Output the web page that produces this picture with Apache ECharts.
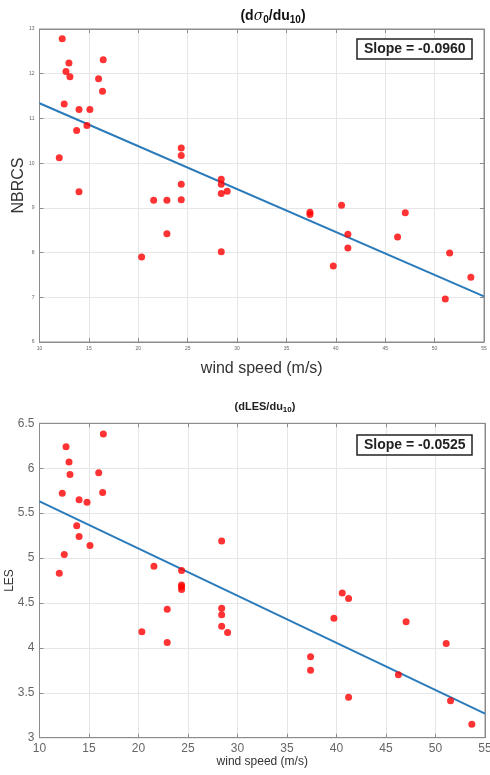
<!DOCTYPE html>
<html>
<head>
<meta charset="utf-8">
<script src="https://cdn.jsdelivr.net/npm/echarts@6/dist/echarts.min.js"></script>
<style>
  html, body { margin: 0; padding: 0; background: #fff; }
  #chart { width: 490px; height: 775px; }
</style>
</head>
<body>
<div id="chart"></div>
<script>
// Wind speed (m/s) of each sample, shared by both panels
const windSpeed = [12.0, 12.3, 12.5, 12.68, 12.98, 13.08, 13.76, 14.0, 14.0, 14.8, 15.1, 15.98, 16.38, 16.45,
  20.34, 21.56, 22.9, 22.9, 24.35, 24.35, 24.35, 24.35, 28.4, 28.4, 28.4, 28.4, 29.0,
  37.38, 37.38, 39.74, 40.58, 41.22, 41.22, 46.25, 47.03, 51.08, 51.52, 53.67];

// Normalised radar cross section
const nbrcs = [10.12, 12.78, 11.32, 12.05, 12.24, 11.93, 10.73, 11.20, 9.36, 10.84, 11.20, 11.89, 11.61, 12.31,
  7.90, 9.17, 9.17, 8.42, 10.34, 10.17, 9.53, 9.18, 9.64, 9.53, 9.32, 8.02, 9.37,
  8.90, 8.85, 7.70, 9.06, 8.41, 8.10, 8.35, 8.89, 6.96, 7.99, 7.45];

// Leading edge slope
const les = [4.83, 5.72, 5.04, 6.24, 6.07, 5.93, 5.36, 5.65, 5.24, 5.62, 5.14, 5.95, 5.73, 6.38,
  4.18, 4.91, 4.43, 4.06, 4.86, 4.70, 4.68, 4.65, 5.19, 4.44, 4.37, 4.24, 4.17,
  3.90, 3.75, 4.33, 4.61, 4.55, 3.45, 3.70, 4.29, 4.05, 3.41, 3.15];

// Linear fits: value at 10 m/s and slope per m/s
const fitRange = [10, 55];
const nbrcsFit = { intercept10: 11.34, slope: -0.0960 };
const lesFit = { intercept10: 5.63, slope: -0.0525 };

// Axis ticks
const xTicks = { min: 10, max: 55, interval: 5 };
const nbrcsTicks = { min: 6, max: 13, interval: 1 };
const lesTicks = { min: 3, max: 6.5, interval: 0.5 };

const FONT = '"Liberation Sans", Arial, sans-serif';

function fitLine(fit) {
  return fitRange.map(x => [x, fit.intercept10 + fit.slope * (x - 10)]);
}
function pairs(ys) {
  return windSpeed.map((x, i) => [x, ys[i]]);
}

const lineCol = '#8c8c8c';

function xAxis(gridIndex, labelSize, nameSize, nameGap, labelMargin) {
  return {
    type: 'value', gridIndex,
    min: xTicks.min, max: xTicks.max, interval: xTicks.interval,
    name: 'wind speed (m/s)', nameLocation: 'middle', nameGap, nameMoveOverlap: false,
    nameTextStyle: { fontFamily: FONT, fontSize: nameSize, color: '#333' },
    axisLine: { show: true, onZero: false, lineStyle: { color: lineCol, width: 1 } },
    axisTick: { show: true, inside: true, length: 4, lineStyle: { color: lineCol } },
    axisLabel: { fontFamily: FONT, fontSize: labelSize, color: '#666', margin: labelMargin },
    splitLine: { show: true, lineStyle: { color: '#e6e6e6', width: 1 } }
  };
}
function yAxis(gridIndex, ticks, name, labelSize, nameSize, nameGap, labelMargin) {
  return {
    type: 'value', gridIndex,
    min: ticks.min, max: ticks.max, interval: ticks.interval,
    name, nameLocation: 'middle', nameGap, nameMoveOverlap: false,
    nameTextStyle: { fontFamily: FONT, fontSize: nameSize, color: '#333' },
    axisLine: { show: true, onZero: false, lineStyle: { color: lineCol, width: 1 } },
    axisTick: { show: true, inside: true, length: 4, lineStyle: { color: lineCol } },
    axisLabel: { fontFamily: FONT, fontSize: labelSize, color: '#666', margin: labelMargin },
    splitLine: { show: true, lineStyle: { color: '#e6e6e6', width: 1 } }
  };
}
// Frame axes on the top and right edges: ticks only
function frameX(gridIndex) {
  return {
    type: 'value', gridIndex, position: 'top',
    min: xTicks.min, max: xTicks.max, interval: xTicks.interval,
    axisLine: { show: true, onZero: false, lineStyle: { color: lineCol, width: 1 } },
    axisTick: { show: true, inside: true, length: 4, lineStyle: { color: lineCol } },
    axisLabel: { show: false }, splitLine: { show: false }
  };
}
function frameY(gridIndex, ticks) {
  return {
    type: 'value', gridIndex, position: 'right',
    min: ticks.min, max: ticks.max, interval: ticks.interval,
    axisLine: { show: true, onZero: false, lineStyle: { color: lineCol, width: 1 } },
    axisTick: { show: true, inside: true, length: 4, lineStyle: { color: lineCol } },
    axisLabel: { show: false }, splitLine: { show: false }
  };
}

const chart = echarts.init(document.getElementById('chart'), null, { renderer: 'canvas' });

const subStyle = (size, pad) => ({ fontSize: size, fontWeight: 'bold', fontFamily: FONT, color: '#111', padding: [pad, 0, 0, 0] });
const slopeBox = (slope, top) => ({
  text: 'Slope = ' + slope.toFixed(4),
  left: 357, top,
  borderColor: '#222', borderWidth: 1.5, padding: [3, 7, 3, 7], backgroundColor: '#fff',
  textStyle: { fontFamily: FONT, fontSize: 14, fontWeight: 'bold', color: '#222' }
});

chart.setOption({
  animation: false,
  backgroundColor: '#fff',
  title: [
    {
      text: '(d{sig|σ}{sub|0}/du{sub|10})',
      left: 268, top: 2, textAlign: 'center',
      textStyle: {
        fontFamily: FONT, fontSize: 14, fontWeight: 'bold', color: '#111',
        rich: {
          sig: { fontSize: 14, fontStyle: 'italic', fontWeight: 'normal', fontFamily: '"DejaVu Serif", serif', color: '#111' },
          sub: subStyle(10, 8)
        }
      }
    },
    {
      text: '(dLES/du{sub|10})',
      left: 260, top: 395, textAlign: 'center',
      textStyle: {
        fontFamily: FONT, fontSize: 11, fontWeight: 'bold', color: '#222',
        rich: { sub: subStyle(8, 6) }
      }
    },
    slopeBox(nbrcsFit.slope, 39),
    slopeBox(lesFit.slope, 435)
  ],
  grid: [
    { left: 39.5, top: 29, width: 444.5, height: 313, outerBoundsMode: 'none', containLabel: false,
      show: true, borderColor: lineCol, borderWidth: 1, backgroundColor: '#fff' },
    { left: 39.5, top: 423.3, width: 445.5, height: 314.4, outerBoundsMode: 'none', containLabel: false,
      show: true, borderColor: lineCol, borderWidth: 1, backgroundColor: '#fff' }
  ],
  xAxis: [
    xAxis(0, 5, 16, 19, 4),
    xAxis(1, 12, 12, 18, 5),
    frameX(0),
    frameX(1)
  ],
  yAxis: [
    yAxis(0, nbrcsTicks, 'NBRCS', 5, 16, 13, 5),
    yAxis(1, lesTicks, 'LES', 12, 12, 24, 5),
    frameY(0, nbrcsTicks),
    frameY(1, lesTicks)
  ],
  series: [
    {
      type: 'line', xAxisIndex: 0, yAxisIndex: 0, data: fitLine(nbrcsFit),
      showSymbol: false, symbol: 'none', lineStyle: { color: '#2b7bba', width: 2 }, z: 2
    },
    {
      type: 'scatter', xAxisIndex: 0, yAxisIndex: 0, data: pairs(nbrcs),
      symbolSize: 7, itemStyle: { color: '#ff0000' }, z: 3
    },
    {
      type: 'line', xAxisIndex: 1, yAxisIndex: 1, data: fitLine(lesFit),
      showSymbol: false, symbol: 'none', lineStyle: { color: '#2b7bba', width: 2 }, z: 2
    },
    {
      type: 'scatter', xAxisIndex: 1, yAxisIndex: 1, data: pairs(les),
      symbolSize: 7, itemStyle: { color: '#ff0000' }, z: 3
    }
  ]
});
</script>
</body>
</html>
